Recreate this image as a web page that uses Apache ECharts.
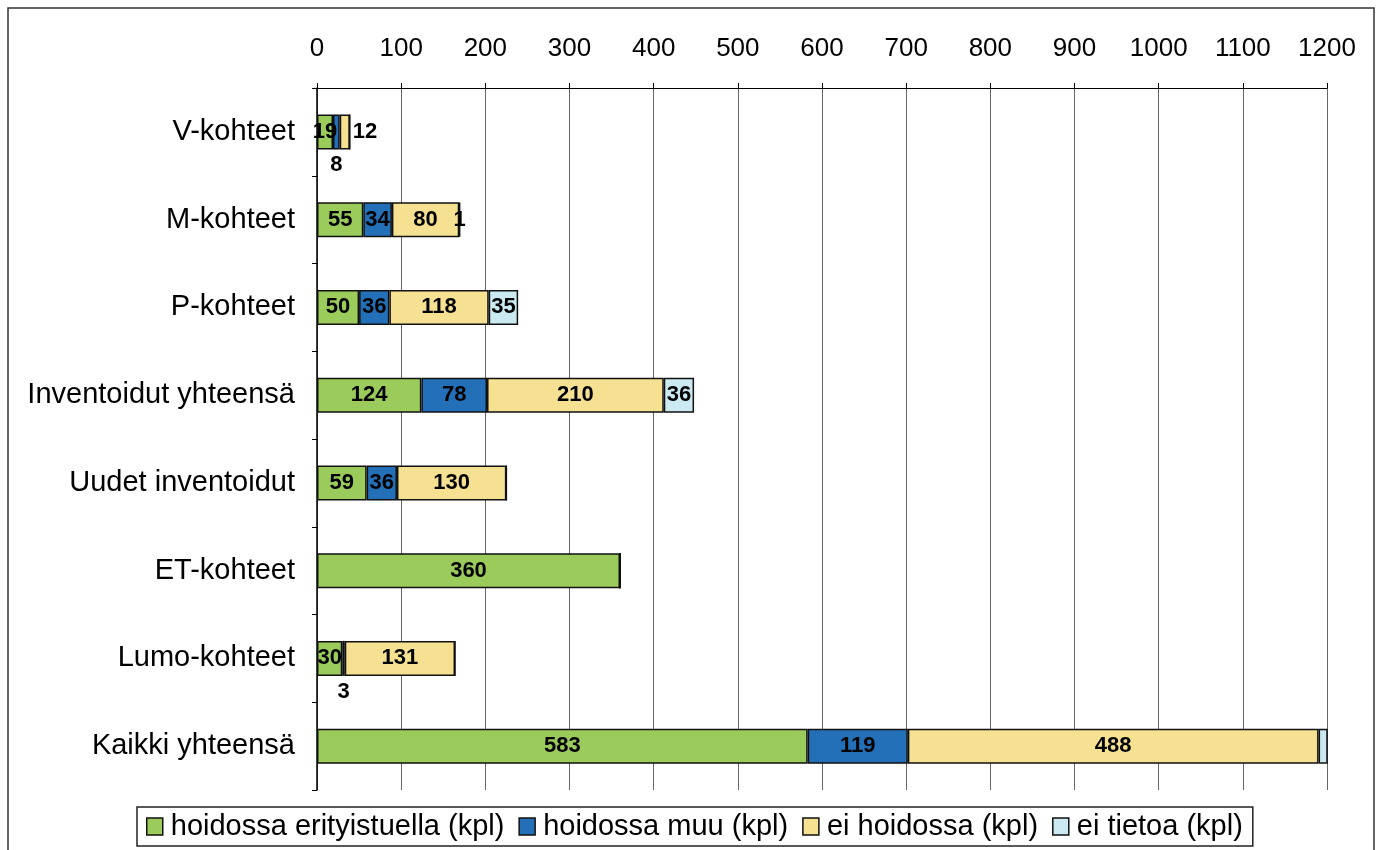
<!DOCTYPE html>
<html><head><meta charset="utf-8">
<script src="https://cdn.jsdelivr.net/npm/echarts@6/dist/echarts.min.js"></script>
<style>html,body{margin:0;padding:0;background:#fff}#c{width:1383px;height:850px}</style>
</head><body><div id="c"></div>
<script>
const categories = ['V-kohteet','M-kohteet','P-kohteet','Inventoidut yhteensä','Uudet inventoidut','ET-kohteet','Lumo-kohteet','Kaikki yhteensä'];
const seriesNames = ['hoidossa erityistuella (kpl)','hoidossa muu (kpl)','ei hoidossa (kpl)','ei tietoa (kpl)'];
const erityistuella = [19, 55, 50, 124, 59, 360, 30, 583];
const muu = [8, 34, 36, 78, 36, 0, 3, 119];
const eiHoidossa = [12, 80, 118, 210, 130, 0, 131, 488];
const eiTietoa = [0, 1, 35, 36, 0, 0, 0, 36];
const xTicks = [0,100,200,300,400,500,600,700,800,900,1000,1100,1200];

const colors = ['#9BCB5B','#2470B8','#F6E193','#CAE9F1'];
const FONT = '"Liberation Sans", Arial, sans-serif';

function mkData(arr, sIdx){
  return arr.map((v,i)=>{
    const d = {value: v};
    if (v === 0) d.label = {show:false};
    if (sIdx===1 && (i===0 || i===6)) d.label = {position:'bottom', distance:5};
    if (sIdx===2 && i===0) d.label = {position:'right', distance:3};
    if (sIdx===3 && i===7) d.label = {show:false};
    return d;
  });
}
const allData = [erityistuella, muu, eiHoidossa, eiTietoa];
const series = allData.map((arr,k)=>({
  name: seriesNames[k], type:'bar', stack:'s', barWidth: 35,
  data: mkData(arr,k),
  itemStyle:{color:colors[k], borderColor:'#111', borderWidth:1.5},
  label:{show:true, position:'inside', color:'#000', fontWeight:'bold', fontSize:22, fontFamily:FONT},
  emphasis:{disabled:true}
}));

const chart = echarts.init(document.getElementById('c'));
chart.setOption({
  animation:false,
  backgroundColor:'#fff',
  graphic:[{type:'rect', shape:{x:8,y:8,width:1366,height:880}, style:{fill:null, stroke:'#333', lineWidth:1.5}, silent:true}],
  grid:{left:317, right:56, top:88, bottom:60, containLabel:false},
  xAxis:{type:'value', position:'top', min:0, max:1200, interval:100,
    axisLine:{show:true, lineStyle:{color:'#000', width:1.2}},
    axisTick:{show:true, length:5, lineStyle:{color:'#000'}},
    axisLabel:{fontSize:26, color:'#000', fontFamily:FONT, margin:26, formatter:v=>xTicks.includes(v)?String(v):''},
    splitLine:{show:true, lineStyle:{color:'#666', width:1}}
  },
  yAxis:{type:'category', inverse:true, data:categories,
    axisLine:{show:true, lineStyle:{color:'#000', width:1.5}},
    axisTick:{show:true, length:5, lineStyle:{color:'#000'}},
    axisLabel:{fontSize:29, color:'#000', fontFamily:FONT, margin:22},
    splitLine:{show:false}
  },
  legend:{show:true, top:807, left:137, itemGap:14, itemWidth:16, itemHeight:17,
    borderColor:'#222', borderWidth:1.5, padding:[5,10,5,9], icon:'rect',
    textStyle:{fontSize:29, color:'#000', fontFamily:FONT, padding:[0,0,0,3]},
    data: seriesNames.map((n,k)=>({name:n, itemStyle:{color:colors[k], borderColor:'#111', borderWidth:1.5}}))
  },
  series: series
});
</script></body></html>
